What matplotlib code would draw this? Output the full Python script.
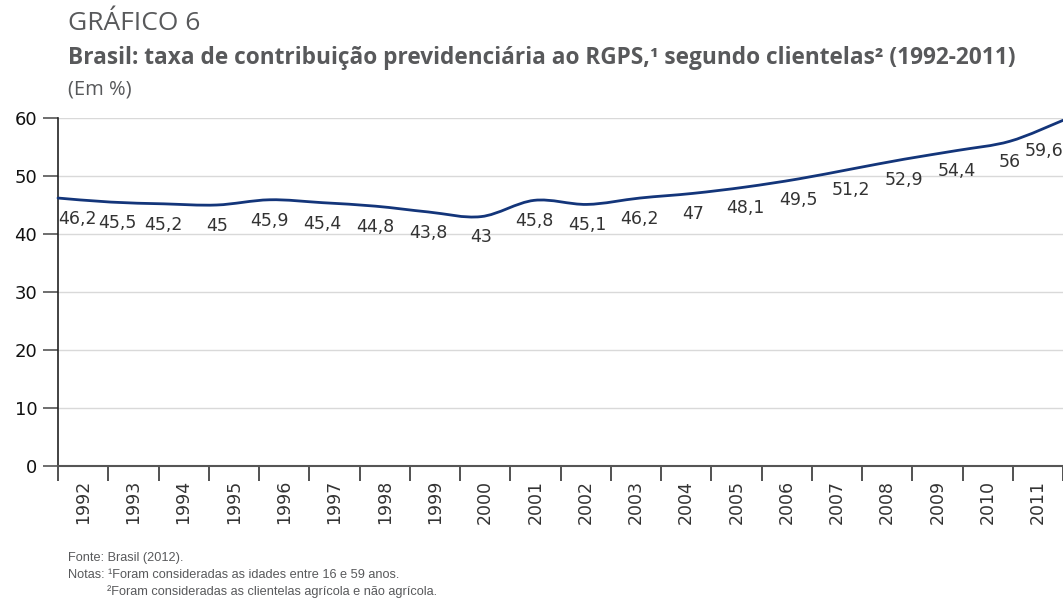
import numpy as np
import matplotlib.pyplot as plt
from matplotlib.path import Path
from matplotlib.patches import PathPatch

anos = [str(a) for a in range(1992, 2012)]
taxa = [46.2, 45.5, 45.2, 45.0, 45.9, 45.4, 44.8, 43.8, 43.0, 45.8,
        45.1, 46.2, 47.0, 48.1, 49.5, 51.2, 52.9, 54.4, 56.0, 59.6]
rotulos = [f"{v:g}".replace(".", ",") for v in taxa]

cinza = "#58595b"
azul = "#13357a"

fig = plt.figure(figsize=(10.63, 6.01), dpi=100)
ax = fig.add_axes([58 / 1063, (601 - 466) / 601, 1 - 58 / 1063, (466 - 118) / 601])

n = len(taxa)
# os pontos da linha vao de borda a borda, as categorias ficam no meio das marcas
x = np.linspace(0, n, n)
y = np.array(taxa)

# linha suavizada (catmull-rom em bezier)
verts = [(x[0], y[0])]
codes = [Path.MOVETO]
for i in range(n - 1):
    p0 = np.array([x[max(i - 1, 0)], y[max(i - 1, 0)]])
    p1 = np.array([x[i], y[i]])
    p2 = np.array([x[i + 1], y[i + 1]])
    p3 = np.array([x[min(i + 2, n - 1)], y[min(i + 2, n - 1)]])
    c1 = p1 + (p2 - p0) / 6
    c2 = p2 - (p3 - p1) / 6
    verts += [tuple(c1), tuple(c2), tuple(p2)]
    codes += [Path.CURVE4] * 3
ax.add_patch(PathPatch(Path(verts, codes), facecolor="none", edgecolor=azul,
                       lw=2.0, clip_on=False, zorder=3, capstyle="round"))

for i, (xi, yi, r) in enumerate(zip(x, y, rotulos)):
    ha, dx, dy = "center", 0, -15
    if i == 0:
        ha = "left"
    elif i == 1:
        dx = 5
    elif i == n - 1:
        ha, dy = "right", -22
    ax.annotate(r, (xi, yi), xytext=(dx, dy), textcoords="offset points",
                ha=ha, va="center", fontsize=12.5, color="#333333")

ax.set_xlim(0, n)
ax.set_ylim(0, 60)
ax.set_yticks(range(0, 61, 10))
ax.set_xticks(np.arange(n + 1))
ax.set_xticklabels([])
ax.set_xticks(np.arange(n) + 0.5, minor=True)
ax.set_xticklabels(anos, minor=True, rotation=90, fontsize=12.5, color="#333333")
ax.tick_params(axis="x", which="major", length=11, width=1.2, color="#333333")
ax.tick_params(axis="x", which="minor", length=0, pad=10)
ax.tick_params(axis="y", length=11, width=1.2, color="#555555", labelsize=13,
               labelcolor="#111111", pad=4)
ax.grid(axis="y", color="#d9d9d9", lw=1)
ax.set_axisbelow(True)
for s in ["top", "right"]:
    ax.spines[s].set_visible(False)
ax.spines["left"].set_color("#222222")
ax.spines["left"].set_linewidth(1.2)
ax.spines["bottom"].set_color("#555555")
ax.spines["bottom"].set_linewidth(1.5)

fig.text(68 / 1063, 1 - 23 / 601, "GRÁFICO 6", fontsize=19, color=cinza,
         va="center", family="Open Sans")
fig.text(68 / 1063, 1 - 58 / 601,
         "Brasil: taxa de contribuição previdenciária ao RGPS,¹ segundo clientelas² (1992-2011)",
         fontsize=16.3, fontweight="bold", color=cinza, va="center", family="Open Sans")
fig.text(68 / 1063, 1 - 90 / 601, "(Em %)", fontsize=14.5, color=cinza, va="center",
         family="Open Sans")

fig.text(68 / 1063, 1 - 558 / 601, "Fonte: Brasil (2012).", fontsize=9.2, color=cinza,
         va="center", family="Liberation Sans")
fig.text(68 / 1063, 1 - 575 / 601, "Notas: ¹Foram consideradas as idades entre 16 e 59 anos.",
         fontsize=9.2, color=cinza, va="center", family="Liberation Sans")
fig.text(107 / 1063, 1 - 592 / 601, "²Foram consideradas as clientelas agrícola e não agrícola.",
         fontsize=9.2, color=cinza, va="center", family="Liberation Sans")

fig.savefig("out.png", dpi=100)
